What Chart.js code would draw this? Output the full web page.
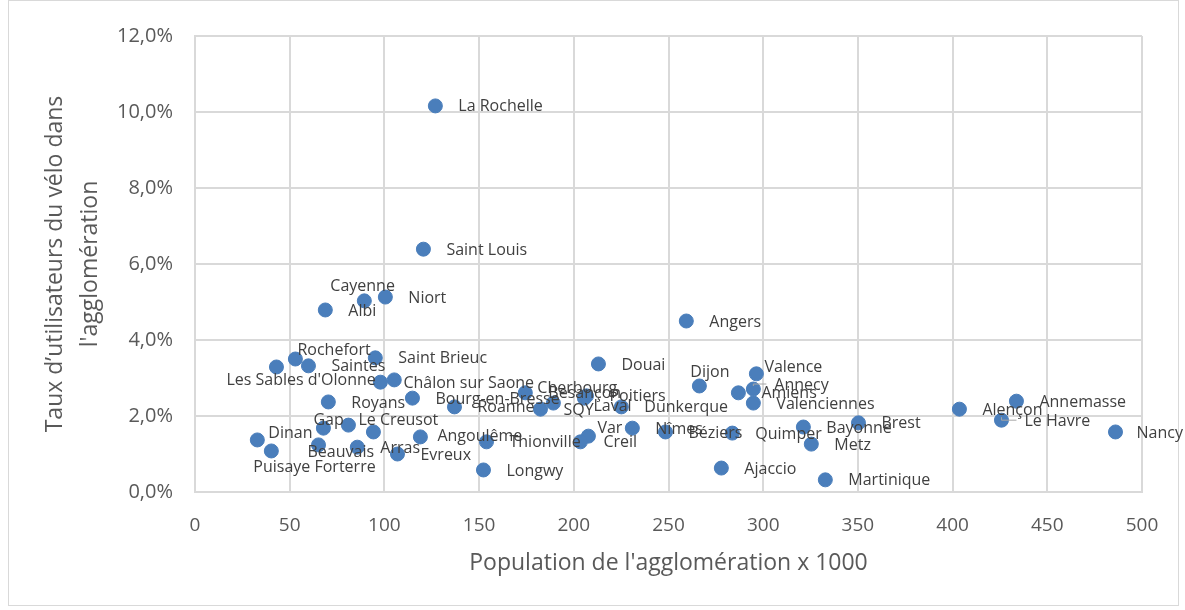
<!DOCTYPE html>
<html>
<head>
<meta charset="utf-8">
<script src="https://cdn.jsdelivr.net/npm/chart.js@4"></script>
<style>
  html, body { margin: 0; padding: 0; background: #fff; }
  canvas { display: block; }
</style>
</head>
<body>
<canvas id="myChart" width="1185" height="610"></canvas>
<script>
"use strict";

// city names (empty = point without label)
const cities = [
  "La Rochelle", "Saint Louis", "Cayenne", "Niort", "Albi", "Angers",
  "Rochefort", "Les Sables d'Olonne", "Saintes", "Saint Brieuc", "Châlon sur Saone", "",
  "Royans", "Bourg-en-Bresse", "Roanne", "Besançon", "Cherbourg", "SQY",
  "Poitiers", "Laval", "Dunkerque", "Douai", "Dijon", "Valence",
  "Amiens", "Annecy", "Valenciennes", "Dinan", "Puisaye Forterre", "Gap",
  "Le Creusot", "", "Beauvais", "Arras", "Evreux", "Angoulême",
  "Thionville", "Longwy", "Var", "Creil", "Nîmes", "Béziers",
  "Quimper", "Bayonne", "Metz", "Brest", "Ajaccio", "Martinique",
  "Alençon", "Annemasse", "Le Havre", "Nancy"
];

// population x 1000
const population = [
  126.9, 120.6, 89.4, 100.5, 68.8, 259.4,
  43.0, 53.0, 59.9, 95.2, 97.9, 105.2,
  70.4, 114.8, 137.0, 174.4, 189.2, 182.4,
  206.7, 205.6, 225.1, 213.0, 266.3, 296.4,
  286.9, 294.8, 294.8, 32.9, 40.3, 67.8,
  81.0, 94.2, 65.2, 85.7, 106.9, 119.0,
  153.9, 152.3, 207.7, 203.5, 230.9, 248.4,
  283.7, 321.2, 325.4, 350.3, 277.9, 332.8,
  403.6, 433.7, 425.8, 486.0
];

// taux d'utilisateurs du vélo (%)
const bikeShare = [
  10.16, 6.39, 5.03, 5.13, 4.79, 4.50,
  3.29, 3.50, 3.32, 3.53, 2.89, 2.95,
  2.37, 2.47, 2.24, 2.61, 2.34, 2.18,
  2.53, 2.47, 2.24, 3.37, 2.79, 3.11,
  2.61, 2.71, 2.34, 1.37, 1.08, 1.68,
  1.76, 1.58, 1.24, 1.18, 1.00, 1.45,
  1.32, 0.58, 1.47, 1.32, 1.68, 1.58,
  1.55, 1.71, 1.26, 1.82, 0.63, 0.32,
  2.18, 2.39, 1.89, 1.58
];

const xTicks = [0, 50, 100, 150, 200, 250, 300, 350, 400, 450, 500];
const yTicks = [0, 2, 4, 6, 8, 10, 12];

// label placement (dx, dy from the point), default is right of the point
const labelOffsets = {
  "Cayenne": [-34, -14],
  "Rochefort": [21, -17],
  "Les Sables d'Olonne": [-69, 21],
  "Cherbourg": [-16, -15],
  "Laval": [9, 8],
  "Dijon": [-9, -14],
  "Valence": [8, -6],
  "Annecy": [21, -4],
  "Dinan": [11, -7],
  "Puisaye Forterre": [-18, 16],
  "Gap": [-10, -8],
  "Le Creusot": [10, -5],
  "Beauvais": [-11, 8],
  "Angoulême": [17, 0],
  "Var": [9, -8],
  "Nancy": [21, 1]
};
const leaderLines = ["Annecy", "Le Havre"];

const points = population.map((x, i) => ({ x: x, y: bikeShare[i] }));

const frame = {
  id: "frame",
  beforeDraw(chart) {
    const c = chart.ctx;
    c.save();
    c.fillStyle = "#fff";
    c.fillRect(0, 0, chart.width, chart.height);
    c.strokeStyle = "#d9d9d9";
    c.lineWidth = 1;
    c.strokeRect(8.5, 0.5, 1170, 605);
    c.restore();
  }
};

const pointLabels = {
  id: "pointLabels",
  afterDatasetsDraw(chart) {
    const c = chart.ctx;
    const meta = chart.getDatasetMeta(0);
    c.save();
    c.font = '16px "Open Sans"';
    c.fillStyle = "#404040";
    c.textAlign = "left";
    c.textBaseline = "middle";
    meta.data.forEach((el, i) => {
      const name = cities[i];
      if (!name) return;
      const off = labelOffsets[name] || [23, 1];
      const lx = el.x + off[0];
      const ly = el.y + off[1];
      if (leaderLines.includes(name)) {
        c.strokeStyle = "#a6a6a6";
        c.lineWidth = 1;
        c.beginPath();
        c.moveTo(el.x, el.y - 3);
        c.lineTo(el.x, ly - 1);
        c.lineTo(lx - 8, ly - 1);
        c.stroke();
      }
      c.fillText(name, lx, ly);
    });
    c.restore();
  }
};

const config = {
  type: "scatter",
  data: {
    datasets: [{
      data: points,
      backgroundColor: "#4a7ebb",
      borderColor: "#4a7ebb",
      borderWidth: 1,
      pointRadius: 7,
      pointHoverRadius: 7
    }]
  },
  options: {
    responsive: false,
    animation: false,
    devicePixelRatio: 1,
    layout: { padding: { left: 0, right: 43, top: 36, bottom: 0 } },
    plugins: {
      legend: { display: false },
      tooltip: { enabled: false }
    },
    scales: {
      x: {
        type: "linear",
        min: 0,
        max: 500,
        afterFit: (s) => { s.height = 118; },
        afterBuildTicks: (s) => { s.ticks = xTicks.map(v => ({ value: v })); },
        grid: { color: "#d9d9d9", lineWidth: 2, drawTicks: false },
        border: { color: "#d9d9d9", width: 2 },
        ticks: {
          padding: 22,
          color: "#595959",
          font: { family: "Open Sans", size: 19 }
        },
        title: {
          display: true,
          text: "Population de l'agglomération x 1000",
          color: "#595959",
          font: { family: "Open Sans", size: 23 },
          padding: { top: 0, bottom: 33 }
        }
      },
      y: {
        type: "linear",
        min: 0,
        max: 12,
        afterFit: (s) => { s.width = 195; },
        afterBuildTicks: (s) => { s.ticks = yTicks.map(v => ({ value: v })); },
        grid: { color: "#d9d9d9", lineWidth: 2, drawTicks: false },
        border: { color: "#d9d9d9", width: 2 },
        ticks: {
          padding: 22,
          color: "#595959",
          font: { family: "Open Sans", size: 20 },
          callback: (v) => v.toFixed(1).replace(".", ",") + "%"
        },
        title: {
          display: true,
          text: ["Taux d\u2019utilisateurs du vélo dans", "l'agglomération"],
          color: "#595959",
          font: { family: "Open Sans", size: 23, lineHeight: 1.52 },
          padding: { top: 38, bottom: 0 }
        }
      }
    }
  },
  plugins: [frame, pointLabels]
};

const ctx = document.getElementById("myChart").getContext("2d");
new Chart(ctx, config);
</script>
</body>
</html>
